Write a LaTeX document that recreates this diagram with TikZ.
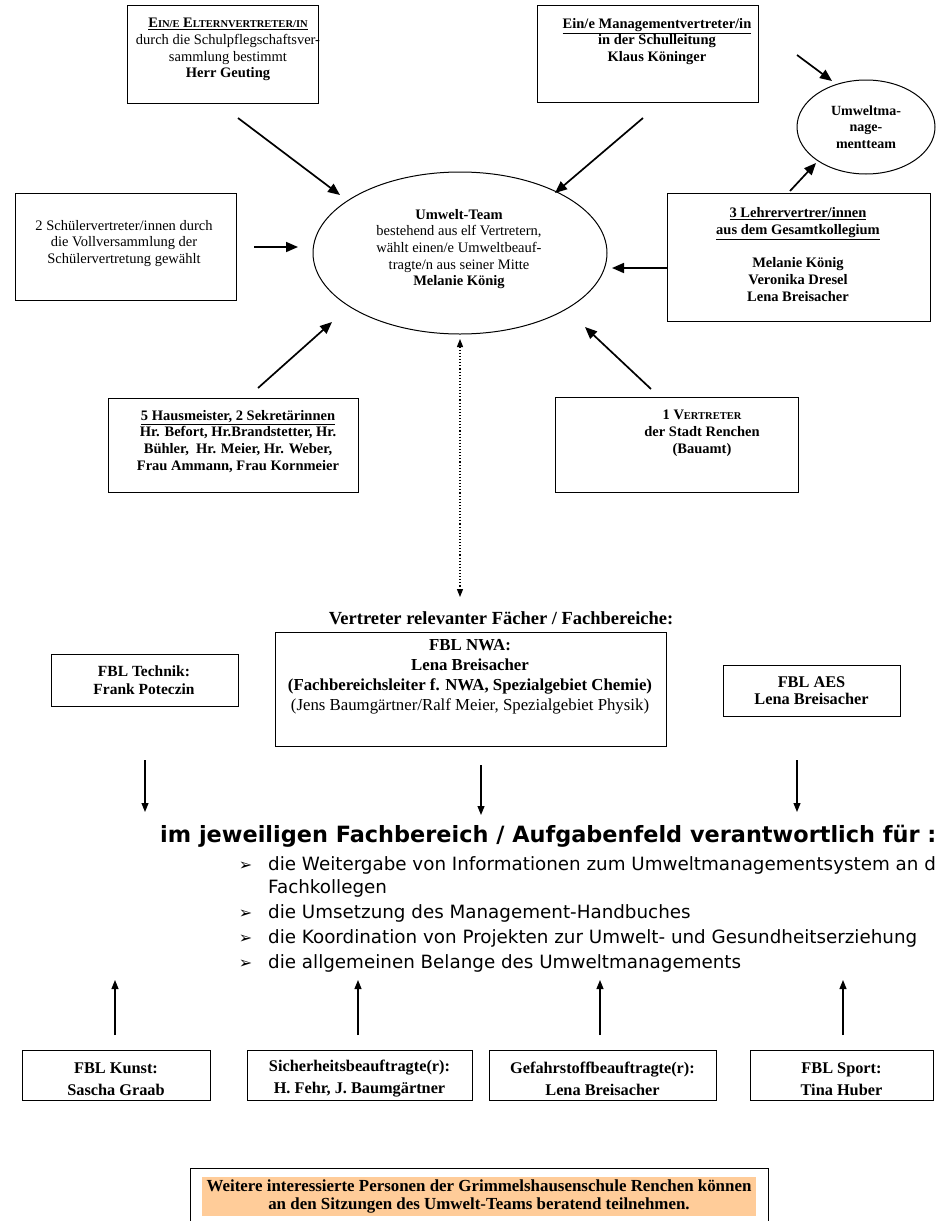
\documentclass[tikz,border=0pt]{standalone}
\usepackage{fontspec}
\setmainfont{Liberation Serif}
\newfontfamily\tahoma{DejaVu Sans}
\newfontfamily\dingfont{DejaVu Sans}
\usetikzlibrary{arrows.meta}
\usetikzlibrary{shapes.geometric}
\usetikzlibrary{positioning}

% fake small caps: first letter, rest smaller
\newcommand{\kap}[2]{#1{\fontsize{10.5}{12}\selectfont #2}}
\newcommand{\pfeil}{\llap{{\dingfont\fontsize{16}{18}\selectfont ➢}\hspace{16pt}}}

\begin{document}
\begin{tikzpicture}[x=1pt,y=-1pt,
    box/.style={draw, line width=1pt, inner sep=0pt},
    txt/.style={align=center, inner sep=0pt, font=\fontsize{14.5}{16.7}\selectfont},
    btxt/.style={txt, font=\bfseries\fontsize{14.5}{16.7}\selectfont},
    fbl/.style={align=center, inner sep=0pt, font=\bfseries\fontsize{16.3}{22}\selectfont},
    arr/.style={-{Triangle[length=12pt,width=10pt]}, line width=1.7pt},
    thinarr/.style={-{Triangle[length=9pt,width=7pt]}, line width=1.1pt},
    item/.style={anchor=west, inner sep=0pt, font=\tahoma\fontsize{18.3}{22}\selectfont}]
\useasboundingbox (0,0) rectangle (936,1221);
\fill[white] (0,0) rectangle (936,1221);

% --- Umwelt-Team und Vertreter ---
\node[ellipse, draw, line width=1pt, minimum width=294, minimum height=162, inner sep=0pt] (team) at (460,253) {};
\node[txt] (teamtxt) at (459,249) {\textbf{Umwelt-Team}\\bestehend aus elf Vertretern,\\wählt einen/e Umweltbeauf-\\tragte/n aus seiner Mitte\\\textbf{Melanie König}};

\node[ellipse, draw, line width=1pt, minimum width=138, minimum height=94, inner sep=0pt] (umt) at (866,127) {};
\node[btxt, font=\bfseries\fontsize{14}{16.3}\selectfont] (umttxt) at (umt) {Umweltma-\\nage-\\mentteam};

\node[box, minimum width=191, minimum height=98] (eltern) at (222.5,54) {};
\node[txt, anchor=north] (elterntxt) at (228,18) {\textbf{\underline{\kap{E}{IN/E} \kap{E}{LTERNVERTRETER/IN}}}\\durch die Schulpflegschaftsver-\\sammlung bestimmt\\\textbf{Herr Geuting}};

\node[box, minimum width=221, minimum height=97] (mgmt) at (647.5,53.5) {};
\node[btxt, anchor=north] (mgmttxt) at (657,18) {\underline{Ein/e Managementvertreter/in}\\in der Schulleitung\\Klaus Köninger};

\node[box, minimum width=221, minimum height=107] (schueler) at (125.5,246.5) {};
\node[txt] (schuelertxt) at (124,243.5) {2 Schülervertreter/innen durch\\die Vollversammlung der\\Schülervertretung gewählt};

\node[box, minimum width=263, minimum height=128] (lehrer) at (798.5,257) {};
\node[btxt] (lehrertxt) at (798,254.5) {\underline{3 Lehrervertrer/innen}\\\underline{aus dem Gesamtkollegium}\\[16.7pt]Melanie König\\Veronika Dresel\\Lena Breisacher};

\node[box, minimum width=250, minimum height=94] (haus) at (233,445) {};
\node[btxt, anchor=north] (haustxt) at (238,410) {\underline{5 Hausmeister, 2 Sekretärinnen}\\Hr. Befort, Hr.Brandstetter, Hr.\\Bühler,\ \ Hr. Meier, Hr. Weber,\\Frau Ammann, Frau Kornmeier};

\node[box, minimum width=243, minimum height=95] (stadt) at (676.5,444.5) {};
\node[btxt, anchor=north] (stadttxt) at (702,410) {1 \kap{V}{ERTRETER}\\der Stadt Renchen\\(Bauamt)};

% Pfeile zum Team
\coordinate (e1) at (238,118);  \coordinate (e2) at (340,195);
\coordinate (m1) at (643,118);  \coordinate (m2) at (555,193);
\coordinate (s1) at (254,247);  \coordinate (s2) at (298,247);
\coordinate (l1) at (667,268);  \coordinate (l2) at (612,268);
\coordinate (h1) at (258,388);  \coordinate (h2) at (332,322);
\coordinate (r1) at (651,389);  \coordinate (r2) at (585,327);
\coordinate (u1) at (797,55);   \coordinate (u2) at (832,81);
\coordinate (u3) at (790,191);  \coordinate (u4) at (816,163);
\draw[arr] (e1) -- (e2);
\draw[arr] (m1) -- (m2);
\draw[arr] (s1) -- (s2);
\draw[arr] (l1) -- (l2);
\draw[arr] (h1) -- (h2);
\draw[arr] (r1) -- (r2);
\draw[arr] (u1) -- (u2);
\draw[arr] (u3) -- (u4);

% --- Fachbereiche ---
\node[inner sep=0pt, font=\bfseries\fontsize{18.5}{21}\selectfont] (faecher) at (501,618) {Vertreter relevanter Fächer / Fachbereiche:};
\coordinate (t1) at (460,339);
\draw[{Triangle[length=8pt,width=6pt]}-{Triangle[length=8pt,width=6pt]}, dotted, line width=1.1pt] (t1) -- (460,597);

\node[box, minimum width=187, minimum height=52] (technik) at (144.5,680) {};
\node[fbl, font=\bfseries\fontsize{15.5}{18}\selectfont] (techniktxt) at (144,680) {FBL Technik:\\Frank Poteczin};

\node[box, minimum width=391, minimum height=114] (nwa) at (470.5,689) {};
\node[fbl, anchor=north, font=\bfseries\fontsize{16.8}{20}\selectfont] (nwatxt) at (470,639) {FBL NWA:\\Lena Breisacher\\(Fachbereichsleiter f. NWA, Spezialgebiet Chemie)\\\mdseries(Jens Baumgärtner/Ralf Meier, Spezialgebiet Physik)};

\node[box, minimum width=177, minimum height=51] (aes) at (811.5,690.5) {};
\node[fbl, font=\bfseries\fontsize{16.3}{17.5}\selectfont] (aestxt) at (811.5,690.5) {FBL AES\\Lena Breisacher};

\draw[thinarr] (145,760) -- (145,812);
\draw[thinarr] (481,765) -- (481,815);
\draw[thinarr] (797,760) -- (797,812);

% --- Aufgaben ---
\node[anchor=west, inner sep=0pt, font=\tahoma\bfseries\fontsize{22.4}{26}\selectfont] (aufgaben) at (160,836) {im jeweiligen Fachbereich / Aufgabenfeld verantwortlich für :};
\node[item] (a1) at (268,865) {\pfeil die Weitergabe von Informationen zum Umweltmanagementsystem an die};
\node[item] (a1b) at (268,888) {Fachkollegen};
\node[item] (a2) at (268,913) {\pfeil die Umsetzung des Management-Handbuches};
\node[item] (a3) at (268,938) {\pfeil die Koordination von Projekten zur Umwelt- und Gesundheitserziehung};
\node[item] (a4) at (268,963) {\pfeil die allgemeinen Belange des Umweltmanagements};

% --- Beauftragte unten ---
\node[box, minimum width=188, minimum height=50] (kunst) at (116,1075) {};
\node[fbl] (kunsttxt) at (116,1079) {FBL Kunst:\\Sascha Graab};
\node[box, minimum width=225, minimum height=50] (sicher) at (359.5,1075) {};
\node[fbl] (sichertxt) at (359.5,1079) {Sicherheitsbeauftragte(r):\\H. Fehr, J. Baumgärtner};
\node[box, minimum width=227, minimum height=50] (gefahr) at (602.5,1075) {};
\node[fbl] (gefahrtxt) at (602.5,1079) {Gefahrstoffbeauftragte(r):\\Lena Breisacher};
\node[box, minimum width=183, minimum height=50] (sport) at (841.5,1075) {};
\node[fbl] (sporttxt) at (841.5,1079) {FBL Sport:\\Tina Huber};

\draw[thinarr] (115,1035) -- (115,980);
\draw[thinarr] (358,1035) -- (358,980);
\draw[thinarr] (600,1035) -- (600,980);
\draw[thinarr] (843,1035) -- (843,980);

% --- Hinweis ---
\node[box, minimum width=578, minimum height=80, anchor=north west] (hinweis) at (190,1168) {};
\node[fill={rgb,255:red,255;green,204;blue,153}, minimum width=554, minimum height=39, inner sep=0pt, align=center,
      font=\bfseries\fontsize{16.9}{18}\selectfont] (hinweistxt) at (479,1196.5)
      {Weitere interessierte Personen der Grimmelshausenschule Renchen können\\an den Sitzungen des Umwelt-Teams beratend teilnehmen.};
\end{tikzpicture}
\end{document}
